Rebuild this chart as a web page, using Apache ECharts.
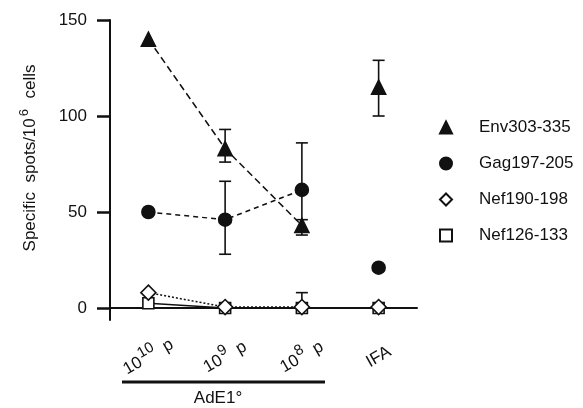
<!DOCTYPE html>
<html>
<head>
<meta charset="utf-8">
<script src="https://cdn.jsdelivr.net/npm/echarts@6/dist/echarts.min.js"></script>
<style>html,body{margin:0;padding:0;background:#fff}#c{width:583px;height:408px}</style>
</head>
<body>
<div id="c"></div>
<script>
// ---- data ----
const categories = ['10^10 p', '10^9 p', '10^8 p', 'IFA'];
const yTicks = [0, 50, 100, 150];
const seriesNames = ['Env303-335', 'Gag197-205', 'Nef190-198', 'Nef126-133'];
const env = [140, 83, 43, 115];
const gag = [50, 46, 61.5, 21];
const nef190 = [8, 0.5, 0.5, 0.5];
const nef126 = [2.5, 0, 0, 0];
// error bars: [categoryIndex, low, high]
const envErr = [[1, 76, 93], [2, 40, 46], [3, 100, 129]];
const gagErr = [[1, 28, 66], [2, 38, 86]];
const nefErr = [[2, 0, 8]];

const K = '#111';
const FONT = 'Liberation Sans, Arial, Helvetica, sans-serif';

function lineData(arr) { return arr.map((v, i) => i < 3 ? v : '-'); }
function ifaData(arr) { return arr.map((v, i) => i === 3 ? v : '-'); }

function errSeries(data) {
  return {
    type: 'custom', silent: true, z: 1,
    data: data,
    renderItem: function (params, api) {
      const x = api.value(0), lo = api.value(1), hi = api.value(2);
      const a = api.coord([x, lo]), b = api.coord([x, hi]);
      const w = 6;
      const st = { stroke: K, lineWidth: 1.6 };
      return { type: 'group', children: [
        { type: 'line', shape: { x1: a[0], y1: a[1], x2: b[0], y2: b[1] }, style: st },
        { type: 'line', shape: { x1: a[0] - w, y1: a[1], x2: a[0] + w, y2: a[1] }, style: st },
        { type: 'line', shape: { x1: b[0] - w, y1: b[1], x2: b[0] + w, y2: b[1] }, style: st }
      ]};
    }
  };
}

const defs = [
  { name: seriesNames[0], d: env, symbol: 'triangle', size: 14, fill: K, dash: [7, 4] },
  { name: seriesNames[1], d: gag, symbol: 'circle', size: 13, fill: K, dash: [5, 4] },
  { name: seriesNames[2], d: nef190, symbol: 'diamond', size: 15, fill: '#fff', dash: [2, 2] },
  { name: seriesNames[3], d: nef126, symbol: 'rect', size: 11, fill: '#fff', dash: 'solid' }
];

const series = [errSeries(envErr), errSeries(gagErr), errSeries(nefErr)];
defs.forEach(function (s, i) {
  series.push({
    name: s.name, type: 'line', data: lineData(s.d), symbol: s.symbol, symbolSize: s.size,
    z: 10 - i,
    lineStyle: { color: K, width: 1.5, type: s.dash },
    itemStyle: { color: s.fill, borderColor: K, borderWidth: 1.6, opacity: 1 }
  });
  series.push({
    name: s.name + ' IFA', type: 'scatter', data: ifaData(s.d), symbol: s.symbol, symbolSize: s.size,
    z: 10 - i,
    itemStyle: { color: s.fill, borderColor: K, borderWidth: 1.6, opacity: 1 }
  });
});

function catLabel(v) {
  const m = v.match(/^10\^(\d+) p$/);
  if (m) return '{b|10}{s|' + m[1] + '}{b| p}';
  return '{b|' + v + '}';
}

const chart = echarts.init(document.getElementById('c'), null, { renderer: 'canvas' });
chart.setOption({
  animation: false,
  backgroundColor: '#fff',
  textStyle: { fontFamily: FONT },
  grid: { left: 110, top: 20, right: 166, bottom: 88, containLabel: false },
  legend: {
    orient: 'vertical', left: 434, top: 114, itemGap: 19, itemWidth: 12, itemHeight: 12,
    data: seriesNames.map(n => ({ name: n, icon: defs[seriesNames.indexOf(n)].symbol })),
    textStyle: { fontFamily: FONT, fontSize: 17, color: K, padding: [0, 0, 0, 22] },
    selectedMode: false
  },
  xAxis: {
    type: 'category', data: categories, boundaryGap: true,
    axisLine: { lineStyle: { color: K, width: 2 } },
    axisTick: { alignWithLabel: true, length: 14, lineStyle: { color: K, width: 2.5 } },
    axisLabel: {
      rotate: 30, margin: 37, align: 'center', verticalAlign: 'middle', interval: 0,
      formatter: catLabel,
      rich: {
        b: { fontFamily: FONT, fontSize: 17, color: K },
        s: { fontFamily: FONT, fontSize: 15, color: K, verticalAlign: 'top', padding: [0, 4, 14, 1] }
      }
    }
  },
  yAxis: {
    type: 'value', min: -6.25, max: 150,
    splitLine: { show: false },
    axisLine: { show: true, lineStyle: { color: K, width: 2 } },
    axisTick: { show: true, length: 13, customValues: yTicks, lineStyle: { color: K, width: 2.5 } },
    axisLabel: { customValues: yTicks, margin: 23, fontFamily: FONT, fontSize: 17, color: K }
  },
  graphic: [
    { type: 'text', x: 30, y: 158, rotation: Math.PI / 2,
      style: {
        text: '{t|Specific  spots/10}{s|6}{t|  cells}', align: 'center', verticalAlign: 'middle',
        rich: {
          t: { fontFamily: FONT, fontSize: 17, fill: K, color: K },
          s: { fontFamily: FONT, fontSize: 13, fill: K, color: K, verticalAlign: 'top', padding: [0, 1, 12, 2] }
        }
      } },
    { type: 'line', shape: { x1: 122, y1: 382, x2: 325, y2: 382 }, style: { stroke: K, lineWidth: 3 } },
    { type: 'text', x: 218, y: 398, style: { text: 'AdE1°', font: '17px ' + FONT, fill: K, align: 'center', verticalAlign: 'middle' } }
  ],
  series: series
});
</script>
</body>
</html>
